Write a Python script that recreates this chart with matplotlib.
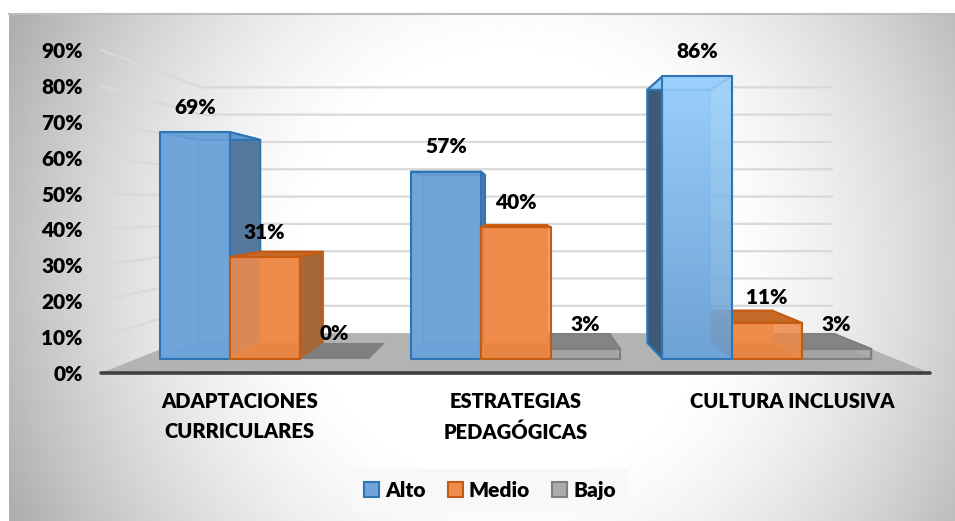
import matplotlib
matplotlib.use('Agg')
import matplotlib.pyplot as plt
import numpy as np
from matplotlib.colors import LinearSegmentedColormap
from matplotlib.patches import Polygon, Patch

# datos
categorias = ['ADAPTACIONES\nCURRICULARES', 'ESTRATEGIAS\nPEDAGÓGICAS', 'CULTURA INCLUSIVA']
niveles = ['Alto', 'Medio', 'Bajo']
alto = [69, 57, 86]
medio = [31, 40, 11]
bajo = [0, 3, 3]
ticks_y = [0, 10, 20, 30, 40, 50, 60, 70, 80, 90]

plt.rcParams['font.family'] = ['Lato', 'DejaVu Sans']

W, H = 955, 521
fig = plt.figure(figsize=(W / 100, H / 100), dpi=100, facecolor='white')

# fondo con degradado radial
fondo = fig.add_axes([9 / W, 0, (W - 9) / W, (H - 14) / H], zorder=0)
yy, xx = np.mgrid[0:1:200j, 0:1:400j]
dist = np.sqrt(((xx - 0.53) / 0.52) ** 2 + ((yy - 0.5) / 1.0) ** 2)
fondo.imshow(1 - 0.24 * (np.clip((dist - 0.4) / 0.6, 0, 1.2) ** 1.5), cmap='gray', vmin=0, vmax=1,
             aspect='auto', extent=(0, 1, 0, 1), interpolation='bilinear')
fondo.axis('off')
fig.add_artist(plt.Line2D([9 / W, 1], [1 - 14 / H, 1 - 14 / H], color='#bdbdbd', lw=1.5))

# ejes: plano frontal, 0% en y=373 px y 90% en y=50 px
ax = fig.add_axes([101 / W, 1 - 373 / H, 829 / W, 323 / H], zorder=1)
ax.set_xlim(-0.5, 2.5)
ax.set_ylim(0, 90)
ax.patch.set_alpha(0)
for s in ax.spines.values():
    s.set_visible(False)

# punto de fuga y profundidades
x_fuga = 1.013
v_fuga = 46.5
s_pared = 0.239
s_frente = 0.084
s_fondo = 0.18
ancho = 0.275
paso = 0.992


def proyectar(x, v, s):
    return (x + s * (x_fuga - x), v + s * (v_fuga - v))


def cara(puntos, color, borde, alpha=1.0, z=3, lw=1.5):
    xy = [proyectar(*p) for p in puntos]
    pol = Polygon(xy, closed=True, facecolor=color, edgecolor=borde, alpha=alpha, lw=lw,
                  zorder=z, clip_on=False, joinstyle='round')
    ax.add_patch(pol)
    return pol


# suelo
cara([(-0.5, 0, 0), (2.5, 0, 0), (2.5, 0, s_pared), (-0.5, 0, s_pared)], '#b3b3b3', 'none', z=1, lw=0)

# lineas de division en pared lateral y de fondo
for t in ticks_y[1:]:
    xs, ys = zip(proyectar(-0.5, t, 0), proyectar(-0.5, t, s_pared), proyectar(2.5, t, s_pared))
    ax.plot(xs, ys, color='#d9d9d9', lw=1.6, zorder=1.5, clip_on=False)

ax.plot([-0.5, 2.5], [0, 0], color='#404040', lw=2.6, zorder=2, clip_on=False, solid_capstyle='round')

estilos = {
    'Alto': dict(frente='#6fa5d9', lateral='#56789c', tapa='#5f97d0', interior='#5b9bd5', borde='#2e75b6'),
    'Medio': dict(frente='#ef8b4b', lateral='#a3683a', tapa='#c46a28', interior='#ed7d31', borde='#c55a11'),
    'Bajo': dict(frente='#ababab', lateral='#7f7f7f', tapa='#848484', interior='#8f8f8f', borde='#7f7f7f'),
}
# la tercera barra azul es mas clara y tiene degradado
estilo_claro = dict(frente='#86bdef', lateral='#3f5a76', tapa='#8ecaf8', interior='#79b8f0', borde='#2e75b6')
degradado = LinearSegmentedColormap.from_list('azul', ['#6a9ed0', '#9ed2fd'])


def dibujar_barra(x0, v, e, z, primera, gradiente=False):
    x1 = x0 + ancho
    if v == 0:
        cara([(x0, 0, s_frente), (x1, 0, s_frente), (x1, 0, s_fondo), (x0, 0, s_fondo)], e['lateral'], 'none', z=z, lw=0)
        return
    frente = [(x0, 0, s_frente), (x1, 0, s_frente), (x1, v, s_frente), (x0, v, s_frente)]
    fondo_b = [(x0, 0, s_fondo), (x1, 0, s_fondo), (x1, v, s_fondo), (x0, v, s_fondo)]
    lado0 = [(x0, 0, s_frente), (x0, v, s_frente), (x0, v, s_fondo), (x0, 0, s_fondo)]
    lado1 = [(x1, 0, s_frente), (x1, v, s_frente), (x1, v, s_fondo), (x1, 0, s_fondo)]

    # caras traseras vistas a traves de la barra
    cara(fondo_b, e['frente'], e['interior'], z=z)
    cara([(x0, 0, s_frente), (x1, 0, s_frente), (x1, 0, s_fondo), (x0, 0, s_fondo)], e['tapa'], e['interior'], z=z)
    if x1 < x_fuga:
        visible, oculto = lado1, lado0
    elif x0 > x_fuga:
        visible, oculto = lado0, lado1
    else:
        visible, oculto = None, None
    if oculto is not None:
        cara(oculto, e['frente'], e['interior'], alpha=1.0 if primera else 0.35, z=z)
    if visible is not None:
        cara(visible, e['lateral'], e['borde'], z=z)
    cara([(x0, v, s_frente), (x1, v, s_frente), (x1, v, s_fondo), (x0, v, s_fondo)], e['tapa'], e['borde'], z=z)

    # cara frontal semitransparente
    if gradiente:
        (xa, va), (xb, vb) = proyectar(x0, 0, s_frente), proyectar(x1, v, s_frente)
        im = ax.imshow(np.linspace(1, 0, 64).reshape(-1, 1), cmap=degradado, vmin=0, vmax=1, aspect='auto',
                       extent=(xa, xb, va, vb), alpha=0.85, zorder=z + 0.1)
        im.set_clip_on(False)
        ax.set_xlim(-0.5, 2.5)
        ax.set_ylim(0, 90)
    else:
        cara(frente, e['frente'], 'none', alpha=0.8, z=z + 0.1, lw=0)
    cara(frente, 'none', e['borde'], z=z + 0.1)


for i in range(len(categorias)):
    centro = 1 + (i - 1) * paso
    izquierda = centro - 1.5 * ancho
    barras = [(izquierda + j * ancho, serie[i], nombre)
              for j, (serie, nombre) in enumerate(zip([alto, medio, bajo], niveles))]
    # primero las mas lejanas del punto de fuga
    barras.sort(key=lambda b: -abs(b[0] + ancho / 2 - x_fuga))
    for k, (x0, v, nombre) in enumerate(barras):
        claro = (i == 2 and nombre == 'Alto')
        dibujar_barra(x0, v, estilo_claro if claro else estilos[nombre], 3 + k * 0.2, k == 0, claro)
        pos = proyectar(x0 + ancho / 2, v, s_frente)
        ax.annotate(f'{v}%', pos, xytext=(0, 18), textcoords='offset points', ha='center', va='center',
                    fontsize=15, fontweight='heavy', color='black', zorder=8, annotation_clip=False)

ax.set_yticks(ticks_y)
ax.set_yticklabels([f'{t}%' for t in ticks_y], fontsize=15, fontweight='heavy')
ax.set_xticks(range(len(categorias)))
ax.set_xticklabels(categorias, fontsize=14.5, fontweight='heavy', linespacing=1.65)
ax.tick_params(axis='both', length=0, colors='black')
ax.tick_params(axis='y', pad=13)
ax.tick_params(axis='x', pad=14)

manejadores = [Patch(facecolor=estilos[n]['frente'], edgecolor=estilos[n]['borde'], lw=1.5, label=n) for n in niveles]
fig.legend(handles=manejadores, ncol=3, loc='center', bbox_to_anchor=(490 / W, 1 - 490.5 / H),
           prop=dict(size=15, weight='heavy'), frameon=True, fancybox=False, facecolor='#f8f8f8',
           edgecolor='none', framealpha=1, handlelength=0.72, handleheight=0.72, handletextpad=0.3,
           columnspacing=1.05, borderpad=0.6)

fig.savefig('out.png', dpi=100)
